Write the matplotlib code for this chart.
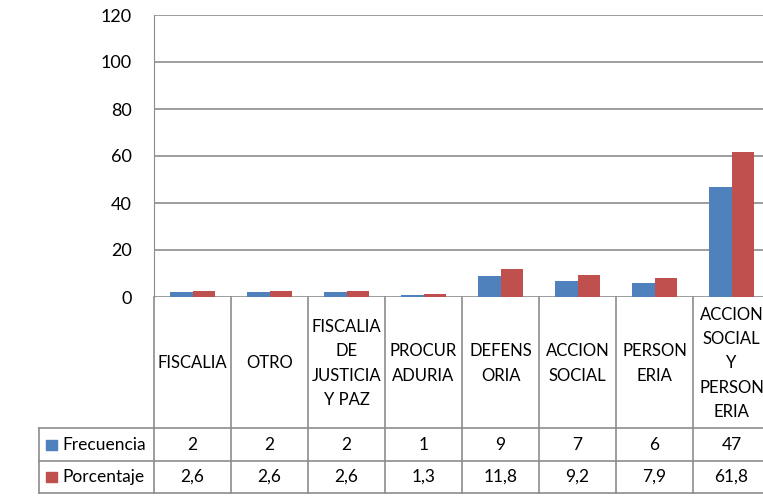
import numpy as np
import matplotlib
matplotlib.use("Agg")
import matplotlib.pyplot as plt
from matplotlib.lines import Line2D
from matplotlib.patches import Rectangle
from matplotlib.transforms import blended_transform_factory

plt.rcParams['font.family'] = ['Lato', 'DejaVu Sans']

categorias = ["FISCALIA", "OTRO", "FISCALIA\nDE\nJUSTICIA\nY PAZ", "PROCUR\nADURIA",
              "DEFENS\nORIA", "ACCION\nSOCIAL", "PERSON\nERIA",
              "ACCION\nSOCIAL\nY\nPERSON\nERIA"]
frecuencia = [2, 2, 2, 1, 9, 7, 6, 47]
porcentaje = [2.6, 2.6, 2.6, 1.3, 11.8, 9.2, 7.9, 61.8]
series = ["Frecuencia", "Porcentaje"]
colores = ['#4F81BD', '#C0504D']
yticks = [0, 20, 40, 60, 80, 100, 120]

W, H = 763, 500
fig = plt.figure(figsize=(W / 100, H / 100), dpi=100)

# plot area in pixels (right edge runs past the image, like the original)
x0, x1 = 154, 770
y_top, y_zero = 15, 297
ax = fig.add_axes([x0 / W, 1 - y_zero / H, (x1 - x0) / W, (y_zero - y_top) / H])

n = len(categorias)
x = np.arange(n) + 0.5
bw = 0.29
ax.bar(x - bw / 2, frecuencia, bw, color=colores[0], zorder=3)
ax.bar(x + bw / 2, porcentaje, bw, color=colores[1], zorder=3)

ax.set_xlim(0, n)
ax.set_ylim(0, 120)
ax.set_yticks(yticks)
ax.set_xticks([])
ax.grid(axis='y', color='#8c8c8c', linewidth=1.2)
for s in ['top', 'right', 'bottom']:
    ax.spines[s].set_visible(False)
ax.spines['left'].set_color('#8c8c8c')
ax.tick_params(axis='y', length=0, labelsize=13, pad=16)

# data table under the chart
tr = blended_transform_factory(ax.transData, fig.transFigure)
def fy(p):
    return 1 - p / H

gray = '#8c8c8c'
r0, r1, r2, r3 = 297, 428, 461, 493
for i in range(n + 1):
    fig.add_artist(Line2D([i, i], [fy(r0), fy(r3)], transform=tr, color=gray, lw=1.2))
for r in (r1, r2, r3):
    fig.add_artist(Line2D([39 / W, x1 / W], [fy(r), fy(r)], color=gray, lw=1.2))
fig.add_artist(Line2D([39 / W, 39 / W], [fy(r1), fy(r3)], color=gray, lw=1.2))

fs = 12.5
for i in range(n):
    fig.text(x[i], fy((r0 + r1) / 2 + 1), categorias[i], transform=tr, ha='center',
             va='center', fontsize=12, linespacing=1.65)
    fig.text(x[i], fy((r1 + r2) / 2), str(frecuencia[i]), transform=tr, ha='center',
             va='center', fontsize=fs)
    fig.text(x[i], fy((r2 + r3) / 2), f"{porcentaje[i]:.1f}".replace('.', ','), transform=tr,
             ha='center', va='center', fontsize=fs)

for j, (nombre, c) in enumerate(zip(series, colores)):
    ym = (r1 + r2) / 2 if j == 0 else (r2 + r3) / 2
    fig.add_artist(Rectangle((46 / W, fy(ym + 5)), 11 / W, 10 / H, color=c))
    fig.text(62 / W, fy(ym), nombre, ha='left', va='center', fontsize=fs)

fig.savefig("out.png", dpi=100)
